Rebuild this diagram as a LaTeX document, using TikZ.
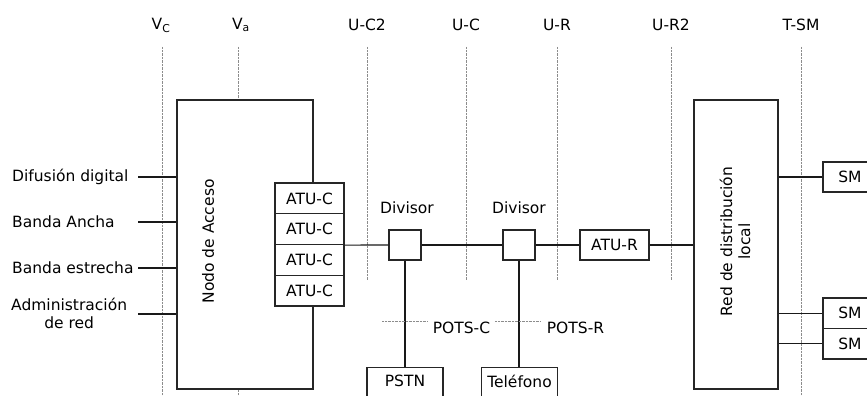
\documentclass[tikz,border=0pt]{standalone}
\usepackage{fontspec}
\setmainfont{DejaVu Sans}
\begin{document}
\begin{tikzpicture}[x=1pt,y=-1pt,
  every node/.style={font=\fontsize{15.5}{18}\selectfont, text=black},
  blk/.style={draw=black!85, line width=1.2pt, fill=white, inner sep=0pt, minimum width=#1},
  blk/.default=69,
  wire/.style={draw=black!90, line width=1.1pt},
  dotln/.style={draw=black!45, line width=0.7pt, dash pattern=on 0.7pt off 0.7pt},
  lbl/.style={inner sep=0pt}
]
\useasboundingbox (0,0) rectangle (867,396);

% dotted reference lines
\foreach \nm/\x/\yb in {vc/162/396, va/238/396, uc2/367/280, uc/466/280, ur/557/280, ur2/671/280, tsm/801/396} {
  \coordinate (\nm top) at (\x,47);
  \coordinate (\nm bot) at (\x,\yb);
  \draw[dotln] (\nm top) -- (\nm bot);
}
% top labels
\node[lbl] (lvc) at (161,25) {V\textsubscript{C}};
\node[lbl] (lva) at (241,25) {V\textsubscript{a}};
\node[lbl] (luc2) at (367,25) {U-C2};
\node[lbl] (luc) at (466,25) {U-C};
\node[lbl] (lur) at (557,25) {U-R};
\node[lbl] (lur2) at (671,25) {U-R2};
\node[lbl] (ltsm) at (801,25) {T-SM};

% access node
\node[blk=136, minimum height=289] (nodo) at (245,244.5) {};
\node[lbl, rotate=90] (nodotxt) at (208,241.5) {Nodo de Acceso};

% ATU-C stack
\node[blk, minimum height=30.75] (atuc1) at (309.5,198.4) {ATU-C};
\node[blk, minimum height=30.75] (atuc2) at (309.5,229.1) {ATU-C};
\node[blk, minimum height=30.75] (atuc3) at (309.5,259.9) {ATU-C};
\node[blk, minimum height=30.75] (atuc4) at (309.5,290.6) {ATU-C};

% inputs
\node[lbl, anchor=west] (in1) at (12,177) {Difusión digital};
\node[lbl, anchor=west] (in2) at (12,222) {Banda Ancha};
\node[lbl, anchor=west] (in3) at (12,268) {Banda estrecha};
\node[lbl, anchor=west, align=center] (in4) at (11,313) {Administración\\de red};
\foreach \i/\y in {1/177, 2/222, 3/268, 4/314} {
  \coordinate (s\i) at (138,\y);
  \coordinate (e\i) at (nodo.west |- s\i);
  \draw[wire] (s\i) -- (e\i);
}

% splitters
\node[blk=32, minimum height=30] (div1) at (405,245) {};
\node[blk=32, minimum height=30] (div2) at (519,245) {};
\node[lbl] (div1txt) at (407,208) {Divisor};
\node[lbl] (div2txt) at (519,208) {Divisor};

\node[blk, minimum height=30] (atur) at (614.5,245) {ATU-R};

% local distribution network
\node[blk=84, minimum height=289] (red) at (736,244.5) {};
\node[lbl, rotate=90, align=center] (redtxt) at (735,241.5) {Red de distribución\\local};

% service modules
\node[blk=54, minimum height=30] (sm1) at (850,177) {SM};
\node[blk=54, minimum height=30.5] (sm2) at (850,313.25) {SM};
\node[blk=54, minimum height=30.5] (sm3) at (850,343.75) {SM};

% PSTN and phone
\node[blk=76, minimum height=44, anchor=north] (pstn) at (405,367) {};
\node[lbl] (pstntxt) at (405,381) {PSTN};
\node[blk=76, minimum height=44, anchor=north] (tel) at (519.5,367) {};
\node[lbl] (teltxt) at (519.5,381) {Teléfono};

% main line
\coordinate (atucr) at (atuc2.south east);
\draw[wire] (atucr) -- (div1.west);
\draw[wire] (div1.east) -- (div2.west);
\draw[wire] (div2.east) -- (atur.west);
\draw[wire] (atur.east) -- (red.west |- atur.east);
\draw[wire] (div1.south) -- (pstn.north);
\draw[wire] (div2.south) -- (tel.north -| div2.south);
\draw[wire] (red.east |- sm1.west) -- (sm1.west);
\draw[wire] (red.east |- sm2.west) -- (sm2.west);
\draw[wire] (red.east |- sm3.west) -- (sm3.west);

% POTS interfaces
\coordinate (p1a) at (382,321);
\coordinate (p1b) at (427,321);
\coordinate (p2a) at (495,321);
\coordinate (p2b) at (540,321);
\draw[dotln] (p1a) -- (p1b);
\draw[dotln] (p2a) -- (p2b);
\node[lbl] (potsc) at (461.5,328) {POTS-C};
\node[lbl] (potsr) at (575.5,328) {POTS-R};
\end{tikzpicture}
\end{document}
